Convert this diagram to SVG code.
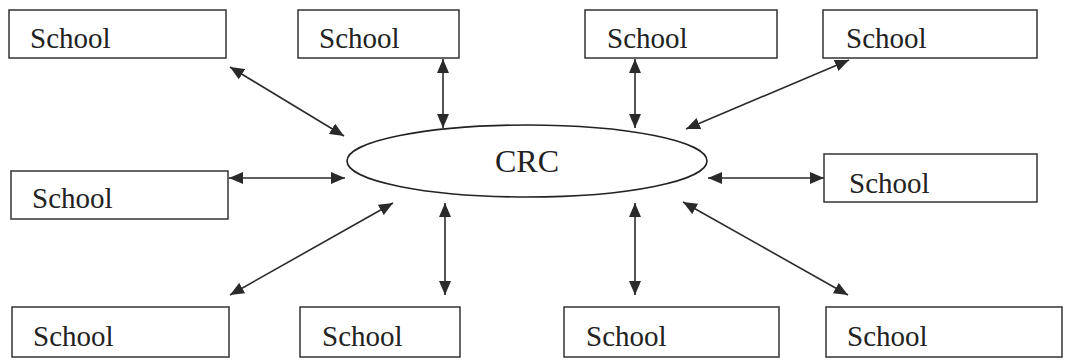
<svg xmlns="http://www.w3.org/2000/svg" width="1070" height="361" viewBox="0 0 1070 361">
<defs>
<marker id="ah" viewBox="0 0 14 12" refX="14" refY="6" markerWidth="14" markerHeight="12" markerUnits="userSpaceOnUse" orient="auto-start-reverse">
<path d="M0,0 L14,6 L0,12 Z" fill="#2a2a2a"/>
</marker>
<style>
.box{fill:#fff;stroke:#333;stroke-width:1.5}
.lbl{font-family:"Liberation Serif","Times New Roman",serif;font-size:29px;fill:#222}
.con{stroke:#2a2a2a;stroke-width:1.6;fill:none;marker-start:url(#ah);marker-end:url(#ah)}
</style>
</defs>
<rect width="1070" height="361" fill="#fff"/>
<g id="crc">
<ellipse cx="527" cy="161" rx="180" ry="36" fill="#fff" stroke="#222" stroke-width="1.6"/>
<text x="527" y="172" text-anchor="middle" class="lbl" style="font-size:32px">CRC</text>
</g>
<g id="school-t1"><rect class="box" x="9" y="10" width="217" height="48"/><text class="lbl" x="30" y="48">School</text></g>
<g id="school-t2"><rect class="box" x="298" y="10" width="161" height="48"/><text class="lbl" x="319" y="48">School</text></g>
<g id="school-t3"><rect class="box" x="585" y="10" width="192" height="48"/><text class="lbl" x="607" y="48">School</text></g>
<g id="school-t4"><rect class="box" x="823" y="10" width="214" height="48"/><text class="lbl" x="846" y="48">School</text></g>
<g id="school-ml"><rect class="box" x="11" y="171" width="217" height="48"/><text class="lbl" x="32" y="208">School</text></g>
<g id="school-mr"><rect class="box" x="824" y="154" width="213" height="48"/><text class="lbl" x="849" y="193">School</text></g>
<g id="school-b1"><rect class="box" x="12" y="307" width="217" height="50"/><text class="lbl" x="33" y="346">School</text></g>
<g id="school-b2"><rect class="box" x="300" y="307" width="160" height="50"/><text class="lbl" x="322" y="346">School</text></g>
<g id="school-b3"><rect class="box" x="564" y="307" width="215" height="50"/><text class="lbl" x="586" y="346">School</text></g>
<g id="school-b4"><rect class="box" x="826" y="307" width="236" height="50"/><text class="lbl" x="847" y="346">School</text></g>
<g id="connectors">
<line class="con" x1="230" y1="67" x2="344" y2="136"/>
<line class="con" x1="443" y1="59" x2="443" y2="128"/>
<line class="con" x1="635" y1="59" x2="635" y2="128"/>
<line class="con" x1="849" y1="60" x2="686" y2="129"/>
<line class="con" x1="229" y1="178" x2="345" y2="178"/>
<line class="con" x1="708" y1="178" x2="824" y2="178"/>
<line class="con" x1="393" y1="203" x2="230" y2="295"/>
<line class="con" x1="445" y1="203" x2="445" y2="295"/>
<line class="con" x1="635" y1="203" x2="635" y2="295"/>
<line class="con" x1="683" y1="202" x2="848" y2="295"/>
</g>
</svg>
